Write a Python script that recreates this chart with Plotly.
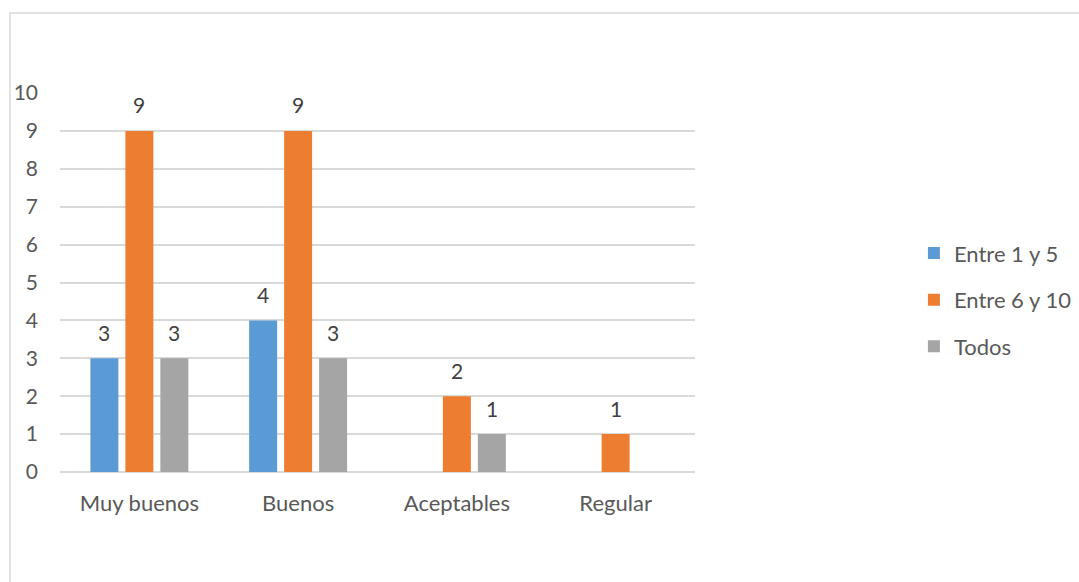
import plotly.graph_objects as go

categories = ["Muy buenos", "Buenos", "Aceptables", "Regular"]
series_names = ["Entre 1 y 5", "Entre 6 y 10", "Todos"]
entre_1_5 = [3, 4, 0, 0]
entre_6_10 = [9, 9, 2, 1]
todos = [3, 3, 1, 0]
colors = ["#5B9BD5", "#ED7D31", "#A5A5A5"]
y_ticks = list(range(0, 11))

FONT = "Lato, 'Open Sans', sans-serif"
SLOT_PX = 35  # horizontal distance between bar centres inside a group

fig = go.Figure()
annotations = []
all_series = [entre_1_5, entre_6_10, todos]
for i, (name, vals) in enumerate(zip(series_names, all_series)):
    fig.add_trace(go.Bar(
        x=categories, y=vals, name=name,
        marker=dict(color=colors[i], line=dict(width=0)),
        legendgroup=name,
    ))
    for cat, v in zip(categories, vals):
        if v:
            annotations.append(dict(
                x=cat, y=v, xref="x", yref="y", text=str(v), showarrow=False,
                xshift=(i - 1) * SLOT_PX, yshift=26, yanchor="middle",
                font=dict(size=21, color="#404040", family=FONT)))

fig.update_layout(
    width=1079, height=582,
    paper_bgcolor="white", plot_bgcolor="white",
    margin=dict(l=60, r=384, t=93, b=110),
    barmode="group", bargap=0.339, bargroupgap=0.2,
    font=dict(family=FONT, size=22, color="#595959"),
    showlegend=True,
    legend=dict(xref="container", yref="container", x=0.847, y=0.485,
                xanchor="left", yanchor="middle",
                font=dict(size=22, color="#595959", family=FONT),
                traceorder="grouped", tracegroupgap=15,
                itemwidth=30),
    xaxis=dict(showgrid=False, showline=False, ticks="", ticklabelstandoff=16,
               tickfont=dict(size=22, color="#595959")),
    yaxis=dict(range=[0, 10], tickvals=y_ticks, showgrid=True, gridcolor="#D9D9D9",
               gridwidth=1.5, zeroline=True, zerolinecolor="#D9D9D9", zerolinewidth=1.5,
               showline=False, ticks="", ticklabelstandoff=21,
               tickfont=dict(size=21, color="#595959")),
    annotations=annotations,
    shapes=[dict(type="rect", xref="paper", yref="paper",
                 x0=-0.0787, x1=1.62, y0=-0.32, y1=1.211,
                 line=dict(color="#D9D9D9", width=1.5), layer="below")],
)

fig.write_html("out.html", config={"displayModeBar": False},
               post_script="document.body.style.margin='0';")
